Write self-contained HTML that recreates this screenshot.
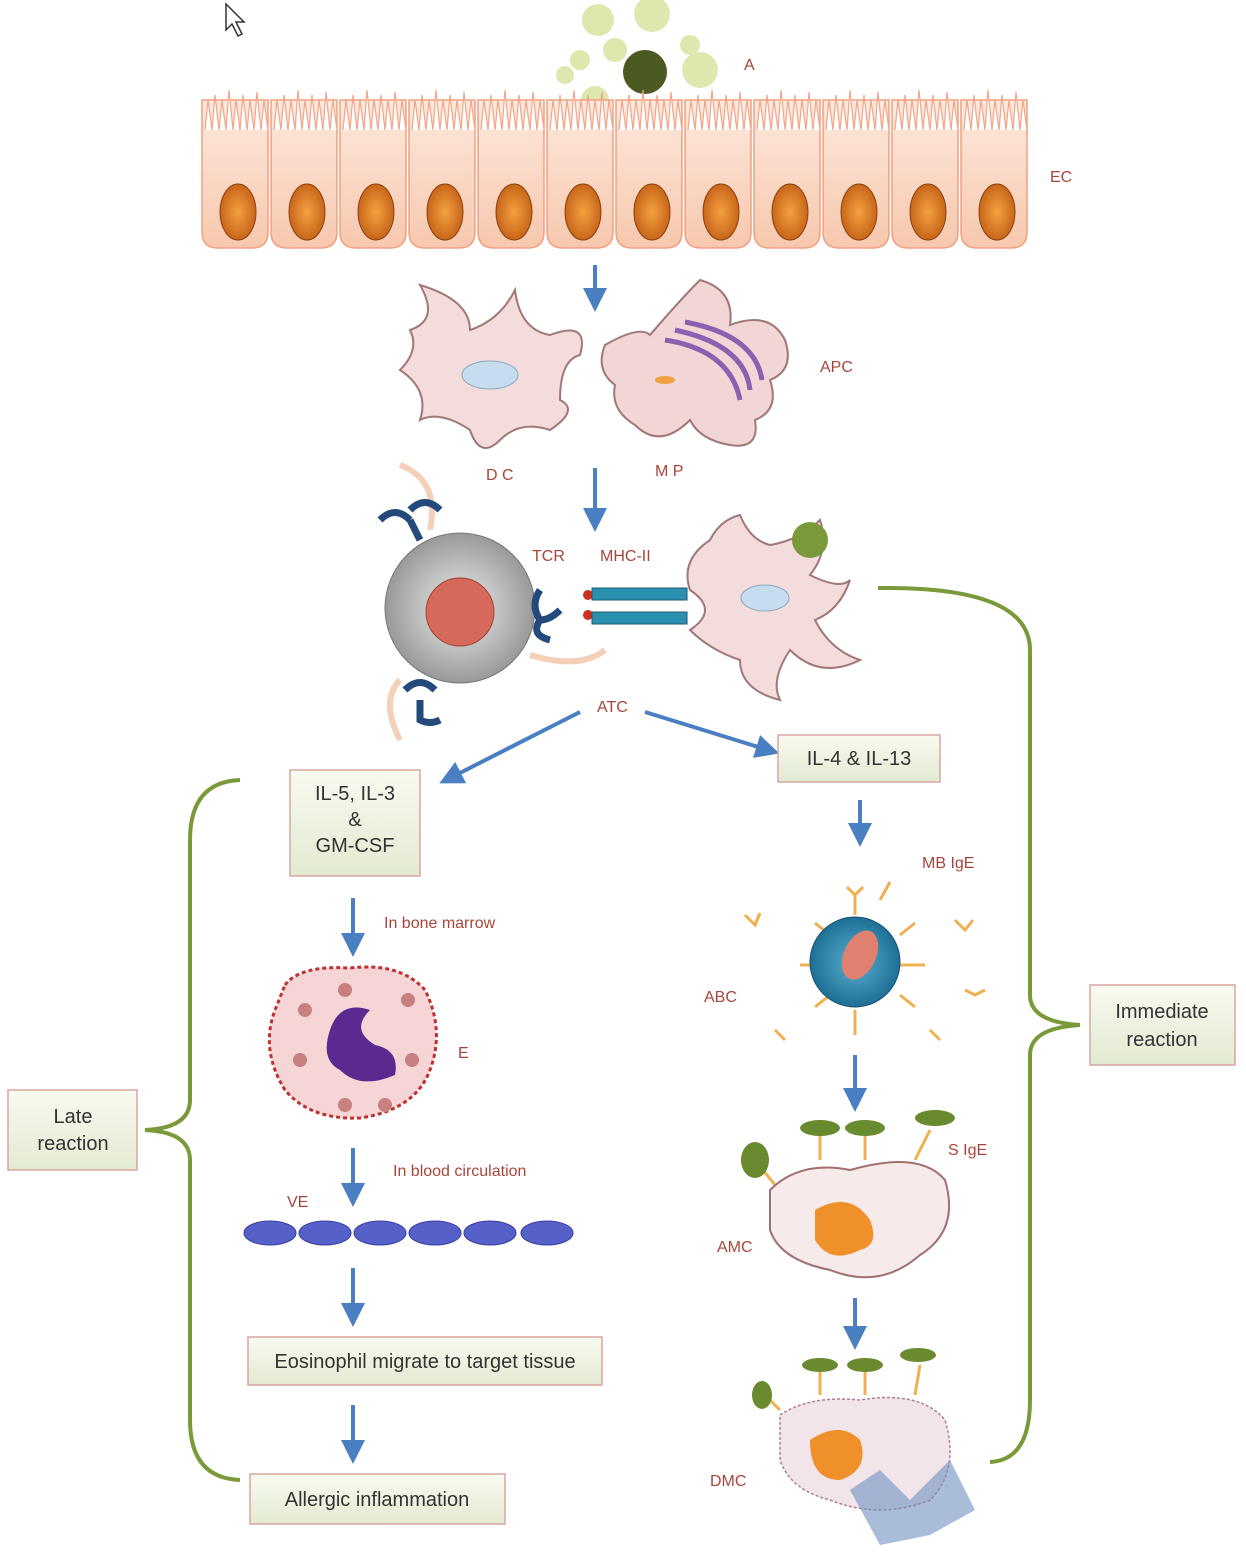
<!DOCTYPE html>
<html><head><meta charset="utf-8"><style>
html,body{margin:0;padding:0;background:#fff;}
svg{display:block;}
text{font-family:"Liberation Sans",sans-serif;}
.lab{fill:#a8453a;font-size:16px;}
.box{fill:url(#bg);stroke:#d9a5a0;stroke-width:1.5;}
.bt{fill:#333;font-size:20px;text-anchor:middle;}
.ar{stroke:#4a7fc1;stroke-width:4;fill:none;marker-end:url(#ah);}
.br{stroke:#7a9a3a;stroke-width:4;fill:none;}
</style></head><body>
<svg width="1246" height="1558" viewBox="0 0 1246 1558" xmlns="http://www.w3.org/2000/svg">
<defs>
<linearGradient id="bg" x1="0" y1="0" x2="0" y2="1"><stop offset="0" stop-color="#f8faf0"/><stop offset="1" stop-color="#e3ead2"/></linearGradient>
<linearGradient id="cell" x1="0" y1="0" x2="0" y2="1"><stop offset="0" stop-color="#fde9de"/><stop offset="1" stop-color="#f7c8ae"/></linearGradient>
<radialGradient id="nuc"><stop offset="0" stop-color="#f4a040"/><stop offset="1" stop-color="#c8661a"/></radialGradient>
<radialGradient id="tc"><stop offset="0" stop-color="#eee"/><stop offset="1" stop-color="#999"/></radialGradient>
<radialGradient id="bc"><stop offset="0" stop-color="#5ab0d0"/><stop offset="1" stop-color="#1f6f95"/></radialGradient>
<marker id="ah" markerWidth="6" markerHeight="6" refX="3" refY="3" orient="auto" markerUnits="strokeWidth"><path d="M0,0 L6,3 L0,6 z" fill="#4a7fc1"/></marker>
</defs>

<path d="M226,4 L226,30 L232,24 L238,36 L242,34 L236,22 L244,22 z" fill="#fff" stroke="#333" stroke-width="1.5"/>

<g fill="#d8e4a0" opacity="0.85">
<circle cx="598" cy="20" r="16"/><circle cx="652" cy="14" r="18"/><circle cx="615" cy="50" r="12"/>
<circle cx="580" cy="60" r="10"/><circle cx="565" cy="75" r="9"/><circle cx="700" cy="70" r="18"/>
<circle cx="690" cy="45" r="10"/><circle cx="595" cy="100" r="14"/><circle cx="700" cy="120" r="12"/>
</g>
<circle cx="645" cy="72" r="22" fill="#4a5a20"/>
<text x="744" y="70" class="lab">A</text>

<g>
<g id="one">
<path d="M202,100 L268,100 L268,232 Q268,248 252,248 L218,248 Q202,248 202,232 z" fill="url(#cell)" stroke="#f0a080" stroke-width="1.5"/>
<path d="M205,130 l3,-30 l4,30 l3,-35 l4,35 l3,-30 l4,30 l3,-40 l4,40 l3,-30 l4,30 l3,-35 l4,35 l3,-30 l4,30 l3,-38 l4,38 l3,-30 l4,30" stroke="#f2a58a" stroke-width="1.2" fill="#fff"/>
<ellipse cx="238" cy="212" rx="18" ry="28" fill="url(#nuc)" stroke="#8a4010"/>
</g>
<use href="#one" x="69"/><use href="#one" x="138"/><use href="#one" x="207"/><use href="#one" x="276"/><use href="#one" x="345"/><use href="#one" x="414"/><use href="#one" x="483"/><use href="#one" x="552"/><use href="#one" x="621"/><use href="#one" x="690"/><use href="#one" x="759"/>
</g>
<text x="1050" y="182" class="lab">EC</text>

<line x1="595" y1="265" x2="595" y2="300" class="ar"/>

<path d="M420,285 Q470,300 470,330 Q500,320 515,290 Q520,330 550,335 Q590,320 580,355 Q560,360 560,400 Q580,410 550,430 Q520,420 500,440 Q480,460 470,430 Q440,410 420,420 Q430,390 400,370 Q420,350 410,330 Q440,320 420,285 z" fill="#f5dcdc" stroke="#a07878" stroke-width="2"/>
<ellipse cx="490" cy="375" rx="28" ry="14" fill="#c8dcf0" stroke="#8ab" />
<path d="M605,345 Q640,325 650,335 Q680,300 700,280 Q735,290 730,325 Q770,310 785,340 Q795,370 770,380 Q780,410 755,420 Q760,450 730,445 Q700,440 690,420 Q660,450 635,425 Q610,410 615,385 Q595,370 605,345 z" fill="#f2d6d6" stroke="#a07878" stroke-width="2"/>
<g stroke="#8a60b0" stroke-width="5" fill="none"><path d="M665,340 Q730,350 740,400"/><path d="M675,330 Q745,345 750,390"/><path d="M685,322 Q755,335 762,380"/></g>
<ellipse cx="665" cy="380" rx="10" ry="4" fill="#f0a040"/>
<text x="486" y="480" class="lab">D C</text>
<text x="655" y="476" class="lab">M P</text>
<text x="820" y="372" class="lab">APC</text>

<line x1="595" y1="468" x2="595" y2="520" class="ar"/>

<path d="M400,465 Q440,480 430,530 M400,740 Q380,700 400,680 M530,655 Q580,670 605,650" stroke="#f5d0b8" stroke-width="6" fill="none"/>
<circle cx="460" cy="608" r="75" fill="url(#tc)" stroke="#777"/>
<circle cx="460" cy="612" r="34" fill="#d66a5a" stroke="#a04030"/>
<g stroke="#234a7a" stroke-width="7" fill="none">
<path d="M380,520 q15,-15 30,0 M410,510 q15,-15 30,0 M410,520 l10,20"/>
<path d="M405,690 q15,-15 30,0 M420,700 l0,20 q10,5 20,0"/>
<path d="M540,590 q-10,15 0,30 q10,0 20,-10 M540,620 q-10,15 10,20"/>
</g>
<circle cx="588" cy="595" r="5" fill="#d03020"/><circle cx="588" cy="615" r="5" fill="#d03020"/>
<rect x="592" y="588" width="95" height="12" fill="#2a90b0" stroke="#1a5a70"/>
<rect x="592" y="612" width="95" height="12" fill="#2a90b0" stroke="#1a5a70"/>
<text x="532" y="561" class="lab">TCR</text>
<text x="600" y="561" class="lab">MHC-II</text>
<path d="M690,590 Q680,560 710,540 Q720,520 740,515 Q750,540 770,545 Q800,540 820,520 Q830,550 810,575 Q840,590 850,580 Q840,610 815,620 Q830,650 860,660 Q820,680 790,650 Q770,680 780,700 Q740,690 740,660 Q710,650 690,630 Q720,610 690,590 z" fill="#f5dcdc" stroke="#a07878" stroke-width="2"/>
<ellipse cx="765" cy="598" rx="24" ry="13" fill="#c8dcf0" stroke="#8ab"/>
<circle cx="810" cy="540" r="18" fill="#7a9a3a"/>
<text x="597" y="712" class="lab">ATC</text>

<line x1="580" y1="712" x2="450" y2="778" class="ar"/>
<line x1="645" y1="712" x2="768" y2="750" class="ar"/>

<rect x="290" y="770" width="130" height="106" class="box"/>
<text class="bt" x="355" y="800">IL-5, IL-3</text><text class="bt" x="355" y="826">&amp;</text><text class="bt" x="355" y="852">GM-CSF</text>
<rect x="778" y="735" width="162" height="47" class="box"/>
<text class="bt" x="859" y="765">IL-4 &amp; IL-13</text>

<line x1="353" y1="898" x2="353" y2="945" class="ar"/>
<text x="384" y="928" class="lab">In bone marrow</text>
<path d="M285,985 Q300,965 350,968 Q400,962 425,990 Q445,1030 430,1070 Q415,1110 360,1118 Q310,1120 285,1090 Q260,1050 275,1010 z" fill="#f5d5d5" stroke="#c03030" stroke-width="3" stroke-dasharray="4 3"/>
<path d="M330,1030 Q340,1000 370,1010 Q350,1030 375,1045 Q400,1050 395,1075 Q360,1090 340,1070 Q320,1060 330,1030 z" fill="#5a2a90"/>
<g fill="#c88080"><circle cx="305" cy="1010" r="7"/><circle cx="408" cy="1000" r="7"/><circle cx="300" cy="1060" r="7"/><circle cx="345" cy="1105" r="7"/><circle cx="412" cy="1060" r="7"/><circle cx="385" cy="1105" r="7"/><circle cx="345" cy="990" r="7"/></g>
<text x="458" y="1058" class="lab">E</text>
<line x1="353" y1="1148" x2="353" y2="1195" class="ar"/>
<text x="393" y="1176" class="lab">In blood circulation</text>
<text x="287" y="1207" class="lab">VE</text>
<g fill="#5560c8" stroke="#3a40a0"><ellipse cx="270" cy="1233" rx="26" ry="12"/><ellipse cx="325" cy="1233" rx="26" ry="12"/><ellipse cx="380" cy="1233" rx="26" ry="12"/><ellipse cx="435" cy="1233" rx="26" ry="12"/><ellipse cx="490" cy="1233" rx="26" ry="12"/><ellipse cx="547" cy="1233" rx="26" ry="12"/></g>
<line x1="353" y1="1268" x2="353" y2="1315" class="ar"/>
<rect x="248" y="1337" width="354" height="48" class="box"/>
<text class="bt" x="425" y="1368">Eosinophil migrate to target tissue</text>
<line x1="353" y1="1405" x2="353" y2="1452" class="ar"/>
<rect x="250" y="1474" width="255" height="50" class="box"/>
<text class="bt" x="377" y="1506">Allergic inflammation</text>

<line x1="860" y1="800" x2="860" y2="835" class="ar"/>
<text x="922" y="868" class="lab">MB IgE</text>
<g stroke="#f0b050" stroke-width="3" fill="none">
<path d="M855,915 l0,-20 m-8,-8 l8,8 l8,-8 M900,935 l15,-12 M880,900 l10,-18 M830,935 l-15,-12 M825,965 l-25,0 M900,965 l25,0 M830,995 l-15,12 M900,995 l15,12 M855,1010 l0,25"/>
<path d="M745,915 l10,10 l5,-12 M955,920 l10,10 l8,-10 M965,990 l10,5 l10,-5 M775,1030 l10,10 M930,1030 l10,10"/>
</g>
<circle cx="855" cy="962" r="45" fill="url(#bc)" stroke="#1a5070"/>
<ellipse cx="860" cy="955" rx="16" ry="26" fill="#e08070" transform="rotate(25 860 955)"/>
<text x="704" y="1002" class="lab">ABC</text>
<line x1="855" y1="1055" x2="855" y2="1100" class="ar"/>
<g stroke="#f0b050" stroke-width="3" fill="none"><path d="M775,1185 l-20,-25 M820,1160 l0,-30 M865,1160 l0,-30 M915,1160 l15,-30"/></g>
<g fill="#6a8a30"><ellipse cx="755" cy="1160" rx="14" ry="18"/><ellipse cx="820" cy="1128" rx="20" ry="8"/><ellipse cx="865" cy="1128" rx="20" ry="8"/><ellipse cx="935" cy="1118" rx="20" ry="8"/></g>
<path d="M770,1190 Q800,1160 850,1170 Q920,1150 945,1180 Q960,1230 920,1255 Q880,1290 830,1270 Q780,1260 770,1230 z" fill="#f7eaea" stroke="#a07070" stroke-width="2"/>
<path d="M815,1210 Q850,1190 870,1220 Q880,1245 860,1250 Q830,1265 815,1240 z" fill="#f0902a"/>
<text x="948" y="1155" class="lab">S IgE</text>
<text x="717" y="1252" class="lab">AMC</text>
<line x1="855" y1="1298" x2="855" y2="1338" class="ar"/>
<g stroke="#f0b050" stroke-width="3" fill="none"><path d="M780,1410 l-15,-15 M820,1395 l0,-25 M865,1395 l0,-25 M915,1395 l5,-30"/></g>
<g fill="#6a8a30"><ellipse cx="762" cy="1395" rx="10" ry="14"/><ellipse cx="820" cy="1365" rx="18" ry="7"/><ellipse cx="865" cy="1365" rx="18" ry="7"/><ellipse cx="918" cy="1355" rx="18" ry="7"/></g>
<path d="M780,1415 Q810,1395 860,1400 Q920,1390 945,1420 Q960,1470 930,1500 Q880,1520 830,1500 Q790,1490 780,1460 z" fill="#f2e5ea" stroke="#b08090" stroke-width="1.5" stroke-dasharray="3 2"/>
<path d="M810,1440 Q840,1420 860,1440 Q870,1470 840,1480 Q810,1480 810,1440 z" fill="#f0902a"/>
<path d="M850,1490 L880,1470 L910,1500 L950,1460 L975,1510 L930,1535 L880,1545 z" fill="#7090c0" opacity="0.6"/>
<text x="710" y="1486" class="lab">DMC</text>

<path class="br" d="M240,780 Q190,782 190,840 L190,1100 Q190,1128 145,1130 Q190,1132 190,1160 L190,1420 Q190,1478 240,1480"/>
<path class="br" d="M878,588 Q1030,586 1030,650 L1030,995 Q1030,1022 1080,1025 Q1030,1028 1030,1055 L1030,1400 Q1030,1460 990,1462"/>

<rect x="8" y="1090" width="129" height="80" class="box"/>
<text class="bt" x="73" y="1123">Late</text><text class="bt" x="73" y="1150">reaction</text>
<rect x="1090" y="985" width="145" height="80" class="box"/>
<text class="bt" x="1162" y="1018">Immediate</text><text class="bt" x="1162" y="1046">reaction</text>
</svg>
</body></html>
